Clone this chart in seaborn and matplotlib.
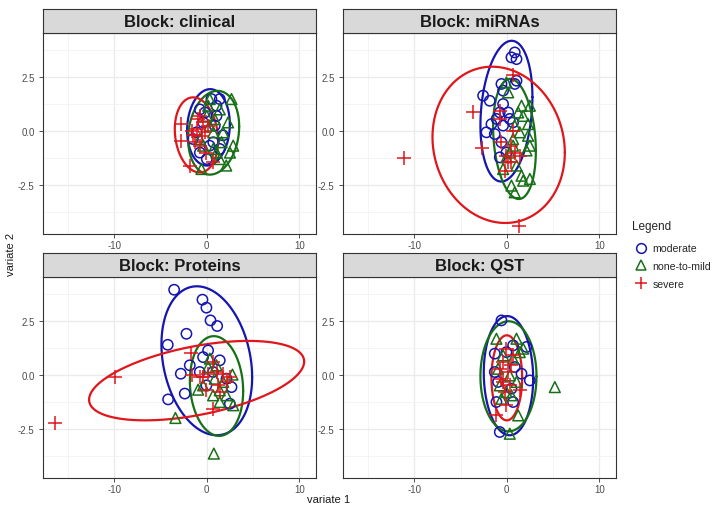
import numpy as np
import pandas as pd
import seaborn as sns
import matplotlib
matplotlib.use("Agg")
import matplotlib.pyplot as plt
from matplotlib.lines import Line2D

sns.set_theme(style="whitegrid")
plt.rcParams["font.family"] = ["Liberation Sans", "DejaVu Sans"]
plt.rcParams["axes.unicode_minus"] = False

blocks = ["clinical", "miRNAs", "Proteins", "QST"]
groups = ["moderate", "none-to-mild", "severe"]
x_ticks = [-10, 0, 10]
y_ticks = [-2.5, 0.0, 2.5]
y_tick_labels = ["-2.5", "0.0", "2.5"]

# ---- points (variate 1, variate 2) per block / group ----
clin_mod_x = [-0.75, 1.05, 1.4, 0.7, 0.3, -0.4, -1.1, 0.0, 1.05, -0.75, 1.75, 0.5, -0.2, 0.86, -1.5, 1.4]
clin_mod_y = [1.0, 1.17, 1.48, -0.52, -0.68, 0.4, -0.06, -1.3, 0.7, -1.0, -0.2, 1.48, 0.86, 0.25, -0.37, -0.83]
clin_non_x = [2.67, 0.32, 2.3, 2.85, 1.6, -0.58, 0.7, 0.0, 1.05, -0.75, 1.4, 2.5, 0.3, 0.85, -0.4, 1.4, 1.75, 0.15, 0.7, 2.1]
clin_non_y = [1.48, 1.48, 0.4, -0.68, -0.52, -1.76, -0.06, 0.7, -1.0, -0.37, 1.0, -1.0, 0.25, 0.55, -0.68, -1.3, -0.06, 1.17, -0.83, -1.6]
clin_sev_x = [-2.74, -2.74, -1.84, -1.1, -1.5, -0.75, -0.4, -0.04, 0.7, -0.2, -0.9, -1.3, 0.15, -0.57, -1.65, -0.75]
clin_sev_y = [0.32, -0.45, -1.6, 0.1, -0.2, 0.7, 0.4, -1.0, -1.45, -0.06, 0.55, -0.52, 0.25, -0.22, 0.0, -0.68]

mir_mod_x = [0.86, 1.05, 0.5, 1.05, 0.86, -0.58, -0.4, -2.56, -1.84, -0.4, -0.76, 0.15, -1.1, 0.32, -1.66, -2.2, -1.3, -0.58, -0.76, -0.04, 0.68, -0.4]
mir_mod_y = [3.64, 3.33, 3.41, 2.33, 2.18, 2.18, 1.87, 1.64, 1.4, 1.25, 0.86, 0.86, 0.56, 0.56, 0.32, -0.06, -0.14, -0.52, -1.22, -1.0, 0.4, 0.25]
mir_non_x = [0.15, -0.04, 1.59, 2.49, 1.77, 2.3, 1.4, 2.3, 2.49, 2.13, 0.68, 0.32, -0.04, 1.05, 1.59, 1.77, 2.49, 0.5, 0.86, 1.23, 0.86, -0.4, 0.68]
mir_non_y = [1.79, 2.25, 1.17, 1.17, 0.7, 0.32, -0.06, -0.22, -0.68, -0.9, -0.37, -1.0, -1.22, -1.6, -2.07, -2.3, -2.22, -2.53, -2.84, 0.86, 0.25, -1.76, -0.68]
mir_sev_x = [-11.14, -3.64, -2.67, 0.68, 1.3, -0.76, -0.76, 0.68, -0.58, 0.5, -0.04, -0.22, 0.5, 1.4, 0.86, 0.15]
mir_sev_y = [-1.27, 0.9, -0.8, 2.59, -4.38, 0.56, 0.94, 0.02, -0.52, -0.68, -1.14, -1.84, -1.45, -1.14, -1.0, -1.45]

pro_mod_x = [-3.53, -0.47, -0.04, 0.4, 1.12, -2.2, -4.22, 0.14, -0.4, -1.84, -2.81, -0.76, -2.38, -4.18, 1.4, 2.67, 2.49, 0.68, -0.04, 2.13]
pro_mod_y = [3.95, 3.49, 3.12, 2.53, 2.27, 1.91, 1.4, 1.14, 0.83, 0.45, 0.06, 0.14, -0.86, -1.13, 0.68, -0.56, -1.33, 0.14, -0.48, -0.17]
pro_non_x = [-3.39, 0.76, 2.77, -0.94, 0.68, 1.4, 2.85, 1.05, 0.14, 1.77, -0.4, 2.13, 0.86, 1.4, 0.32]
pro_non_y = [-1.99, -3.64, 0.02, -0.68, -0.94, -1.25, -1.4, 0.45, 0.37, -0.32, -0.48, -0.94, -0.17, -0.71, 0.76]
pro_sev_x = [-16.43, -9.95, -1.73, -1.55, -0.4, 0.68, 1.05, 1.77, 0.68, -0.04, 1.23, 2.13, 0.14, -0.76, 1.4, 2.49]
pro_sev_y = [-2.22, -0.09, 1.02, -0.02, -0.09, 0.6, 0.14, 0.06, -1.56, -0.71, -0.48, -0.32, 0.06, -0.09, -0.79, -0.09]

qst_mod_x = [-0.58, -0.76, 2.49, 2.13, 1.59, 0.86, 0.68, -1.3, -1.12, 0.68, -0.94, -0.04, 0.5, -1.3]
qst_mod_y = [2.53, -2.64, -0.25, 1.3, 0.06, 0.37, 1.37, 0.99, -1.25, -1.25, -0.32, 1.06, -0.63, 0.14]
qst_non_x = [5.19, 0.32, -1.12, 1.05, 1.77, 1.4, 1.05, -0.94, -0.04, -0.58, 0.68, -0.76, 0.32, 1.23, -0.4, 0.5]
qst_non_y = [-0.56, -2.72, 1.68, 1.68, 1.22, 1.06, -0.32, 0.29, -0.79, -1.1, 0.76, -0.48, -0.02, -1.87, 0.91, -0.94]
qst_sev_x = [-1.12, 1.4, -0.04, -0.4, 0.14, -0.58, 0.32, -0.22, 0.5, -0.76, -0.04, 0.68, -0.4]
qst_sev_y = [-1.87, -0.71, 1.22, 0.6, 0.14, -0.17, -0.48, -0.79, 0.45, 0.29, -1.4, 0.91, -0.32]

# ---- confidence ellipses: centre x, centre y, half-range x, half-range y, tilt ----
ell_cx = {"clinical": [0.18, 0.74, -1.12], "miRNAs": [-0.04, 0.83, -0.88],
          "Proteins": [0.0, 1.05, -1.1], "QST": [0.18, 0.18, 0.0]}
ell_cy = {"clinical": [0.17, -0.08, -0.18], "miRNAs": [0.92, -0.37, -0.64],
          "Proteins": [0.66, -0.51, -0.26], "QST": [-0.03, -0.06, -0.13]}
ell_ax = {"clinical": [2.31, 2.76, 2.34], "miRNAs": [2.81, 2.31, 7.15],
          "Proteins": [4.9, 2.88, 11.62], "QST": [2.67, 3.03, 1.66]}
ell_ay = {"clinical": [1.77, 1.94, 1.74], "miRNAs": [3.26, 2.78, 3.62],
          "Proteins": [3.45, 2.31, 1.84], "QST": [2.76, 2.55, 1.97]}
ell_rho = {"clinical": [0.08, 0.15, -0.15], "miRNAs": [0.2, -0.2, -0.1],
           "Proteins": [-0.22, -0.1, 0.48], "QST": [-0.05, 0.0, 0.0]}

points = {
    "clinical": [(clin_mod_x, clin_mod_y), (clin_non_x, clin_non_y), (clin_sev_x, clin_sev_y)],
    "miRNAs": [(mir_mod_x, mir_mod_y), (mir_non_x, mir_non_y), (mir_sev_x, mir_sev_y)],
    "Proteins": [(pro_mod_x, pro_mod_y), (pro_non_x, pro_non_y), (pro_sev_x, pro_sev_y)],
    "QST": [(qst_mod_x, qst_mod_y), (qst_non_x, qst_non_y), (qst_sev_x, qst_sev_y)],
}

colors = {"moderate": "#1515B0", "none-to-mild": "#177017", "severe": "#E0161B"}
markers = {"moderate": "o", "none-to-mild": "^", "severe": "+"}
sizes = {"moderate": 55, "none-to-mild": 60, "severe": 90}

W, H = 719, 506
fig = plt.figure(figsize=(W / 100, H / 100), dpi=100)

panel_px = {"clinical": (43, 34), "miRNAs": (343, 34), "Proteins": (43, 278), "QST": (343, 278)}
pw, ph, sh = 273, 201, 24

xlim = (-17.7, 11.8)
ylim = (-4.77, 4.54)

for b in blocks:
    lx, ty = panel_px[b]
    ax = fig.add_axes([lx / W, 1 - (ty + ph) / H, pw / W, ph / H])
    ax.set_facecolor("white")
    rows = []
    for g, (xs, ys) in zip(groups, points[b]):
        for xv, yv in zip(xs, ys):
            rows.append({"v1": xv, "v2": yv, "group": g})
    df = pd.DataFrame(rows)
    t = np.linspace(0, 2 * np.pi, 300)
    for i, g in enumerate(groups):
        r = np.arcsin(ell_rho[b][i])
        ex = ell_cx[b][i] + ell_ax[b][i] * np.cos(t)
        ey = ell_cy[b][i] + ell_ay[b][i] * np.sin(t + r)
        ax.plot(ex, ey, color=colors[g], lw=1.6, zorder=3)
    for g in groups:
        sub = df[df["group"] == g]
        if markers[g] == "+":
            sns.scatterplot(data=sub, x="v1", y="v2", marker="+", color=colors[g],
                            s=sizes[g], linewidth=1.1, ax=ax, legend=False, zorder=4)
        else:
            sns.scatterplot(data=sub, x="v1", y="v2", marker=markers[g], color=colors[g],
                            facecolor="none", edgecolor=colors[g], s=sizes[g],
                            linewidth=1.1, ax=ax, legend=False, zorder=4)
    ax.set_xlim(*xlim)
    ax.set_ylim(*ylim)
    ax.set_xticks(x_ticks)
    ax.set_xticklabels([str(v) for v in x_ticks])
    ax.set_yticks(y_ticks)
    ax.set_yticklabels(y_tick_labels)
    ax.set_xticks([-15, -5, 5], minor=True)
    ax.set_yticks([-3.75, -1.25, 1.25, 3.75], minor=True)
    ax.grid(which="major", color="#EBEBEB", lw=1.0)
    ax.grid(which="minor", color="#F3F3F3", lw=0.6)
    ax.set_axisbelow(True)
    ax.tick_params(axis="both", which="major", labelsize=7, labelcolor="#4D4D4D",
                   color="#333333", length=3, width=0.6, pad=1.5, direction="out",
                   bottom=True, left=True)
    ax.tick_params(axis="y", which="major", pad=3)
    ax.tick_params(which="minor", length=0)
    for s in ax.spines.values():
        s.set_color("#333333")
        s.set_linewidth(0.8)
    ax.set_xlabel("")
    ax.set_ylabel("")
    sax = fig.add_axes([lx / W, 1 - ty / H, pw / W, sh / H])
    sax.set_facecolor("#D9D9D9")
    sax.set_xticks([])
    sax.set_yticks([])
    sax.grid(False)
    for s in sax.spines.values():
        s.set_color("#333333")
        s.set_linewidth(0.8)
    sax.text(0.5, 0.48, f"Block: {b}", ha="center", va="center", fontsize=12,
             fontweight="bold", color="#1A1A1A", transform=sax.transAxes)

fig.text(329 / W, 1 - 500 / H, "variate 1", ha="center", va="center", fontsize=8, color="#1A1A1A")
fig.text(11 / W, 1 - 254 / H, "variate 2", ha="center", va="center", fontsize=8,
         rotation=90, color="#1A1A1A")

handles = []
for g in groups:
    if markers[g] == "+":
        h = Line2D([], [], ls="", marker="+", color=colors[g], markersize=9, mew=1.1)
    else:
        h = Line2D([], [], ls="", marker=markers[g], markerfacecolor="none",
                   markeredgecolor=colors[g], markersize=7, mew=1.1)
    handles.append(h)
leg = fig.legend(handles, groups, loc="upper left", bbox_to_anchor=(630 / W, 1 - 219 / H),
                 frameon=False, title="Legend", fontsize=7.6, title_fontsize=8.5,
                 handletextpad=0.35, handlelength=1.6, labelspacing=0.75, borderaxespad=0,
                 borderpad=0.2)
leg._legend_box.align = "left"
leg._legend_box.sep = 8

fig.savefig("out.png", dpi=100)
